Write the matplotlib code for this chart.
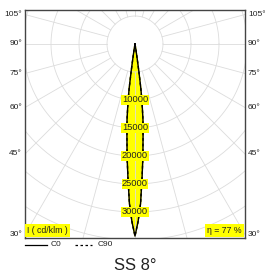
import numpy as np
import matplotlib.pyplot as plt

plt.rcParams['font.family'] = ['Liberation Sans', 'DejaVu Sans']

# Intensity curve (cd/klm) against angle from nadir (degrees)
gamma = [0, 1, 2, 3, 4, 5, 6, 7, 7.5, 8, 8.5, 9, 10]
intensity = [34300, 31700, 28500, 24000, 20200, 16500, 13600, 10200, 7900, 5000, 2500, 800, 0]

ring_values = [10000, 15000, 20000, 25000, 30000]
side_angles = [105, 90, 75, 60, 45, 30]
efficiency = 77
title = "SS 8°"

# full symmetric curve
g = np.radians(np.concatenate([-np.array(gamma[::-1]), np.array(gamma[1:])]))
r = np.concatenate([np.array(intensity[::-1]), np.array(intensity[1:])])
cx = r * np.sin(g)
cy = -r * np.cos(g)

fig = plt.figure(figsize=(2.65, 2.77), dpi=100)
ax = fig.add_axes([25 / 265, 39 / 277, 220 / 265, 228 / 277])
xmax = 19643
ax.set_xlim(-xmax, xmax)
ax.set_ylim(-34643, 6071)
ax.set_aspect('equal')
ax.set_xticks([])
ax.set_yticks([])
for s in ax.spines.values():
    s.set_color('#444444')
    s.set_linewidth(1)

# grid
grid_c = '#dcdcdc'
t = np.linspace(0, 2 * np.pi, 400)
for rr in range(5000, 65000, 5000):
    ax.plot(rr * np.cos(t), rr * np.sin(t), color=grid_c, lw=0.6, zorder=2)
for a in range(0, 360, 15):
    ar = np.radians(a)
    ax.plot([5000 * np.sin(ar), 60000 * np.sin(ar)],
            [-5000 * np.cos(ar), -60000 * np.cos(ar)], color=grid_c, lw=0.6, zorder=2)

# beam
ax.fill(cx, cy, color='#ffff00', zorder=1)
ax.plot(cx, cy, color='black', lw=1, zorder=3, label='C0')
ax.plot(cx, cy, color='black', lw=1, ls=(0, (2, 2)), zorder=3, label='C90')

for v in ring_values:
    ax.text(0, -v, str(v), ha='center', va='center', fontsize=6.7, color='#222222', zorder=4,
            bbox=dict(boxstyle='square,pad=0.05', fc='#ffff00', ec='none'))

# angle labels on the box sides
off = 3 * 178.6
for a in side_angles:
    y = -xmax / np.tan(np.radians(a)) if a != 90 else 0
    ax.text(-xmax - off, y, f"{a}°", ha='right', va='center', fontsize=6, color='#222222', clip_on=False)
    ax.text(xmax + off, y, f"{a}°", ha='left', va='center', fontsize=6, color='#222222', clip_on=False)

ax.text(0.008, 0.012, "I ( cd/klm )", transform=ax.transAxes, ha='left', va='bottom', fontsize=6.3,
        color='#222222', zorder=5, bbox=dict(boxstyle='square,pad=0.25', fc='#ffff00', ec='none'))
ax.text(0.985, 0.012, f"η = {efficiency} %", transform=ax.transAxes, ha='right', va='bottom', fontsize=6.3,
        color='#222222', zorder=5, bbox=dict(boxstyle='square,pad=0.25', fc='#ffff00', ec='none'))

# legend under the box
fig.lines.append(plt.Line2D([25 / 265, 47 / 265], [1 - 245 / 277] * 2, color='black', lw=0.9,
                            transform=fig.transFigure))
fig.text(51 / 265, 1 - 245 / 277, "C0", ha='left', va='center', fontsize=6, color='#222222')
fig.lines.append(plt.Line2D([75 / 265, 92 / 265], [1 - 245 / 277] * 2, color='black', lw=0.9,
                            ls=(0, (2, 2)), transform=fig.transFigure))
fig.text(98 / 265, 1 - 245 / 277, "C90", ha='left', va='center', fontsize=6, color='#222222')

fig.text(135 / 265, 1 - 265 / 277, title, ha='center', va='center', fontsize=12, color='#222222')

fig.savefig('out.png', dpi=100)
